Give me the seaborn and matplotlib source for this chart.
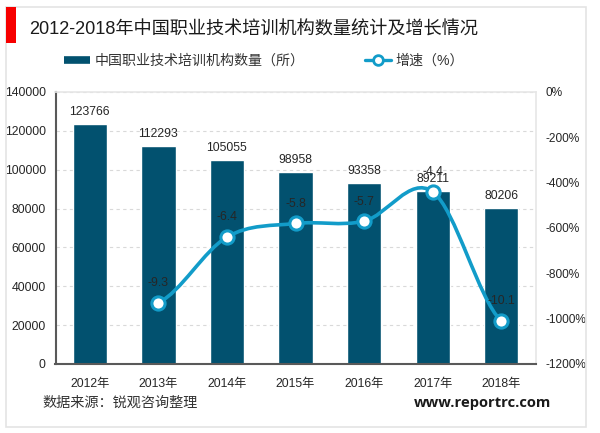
import matplotlib
matplotlib.use("Agg")
import matplotlib.pyplot as plt
import seaborn as sns
import pandas as pd
from matplotlib.path import Path
from matplotlib.patches import PathPatch, Rectangle
from matplotlib.lines import Line2D

years = ["2012年", "2013年", "2014年", "2015年", "2016年", "2017年", "2018年"]
counts = [123766, 112293, 105055, 98958, 93358, 89211, 80206]
growth_years = ["2013年", "2014年", "2015年", "2016年", "2017年", "2018年"]
growth = [-9.3, -6.4, -5.8, -5.7, -4.4, -10.1]
title = "2012-2018年中国职业技术培训机构数量统计及增长情况"
bar_name = "中国职业技术培训机构数量（所）"
line_name = "增速（%）"
source = "数据来源：锐观咨询整理"
site = "www.reportrc.com"

sns.set_theme(style="white")
plt.rcParams["font.family"] = ["Liberation Sans", "Noto Sans CJK SC", "DejaVu Sans"]

W, H = 600, 433
BAR, LINE, TXT = "#02516f", "#129cc9", "#262626"
fig = plt.figure(figsize=(6, 4.33), dpi=100, facecolor="white")
ax = fig.add_axes([55.5 / W, 1 - 364 / H, 480 / W, 272 / H])

df = pd.DataFrame({"year": years, "count": counts})
sns.barplot(data=df, x="year", y="count", color=BAR, width=0.5, saturation=1, ax=ax, zorder=2)
ax.set_ylim(0, 140000)
ax.set_xlim(-0.5, 6.5)
ax.set_xlabel("")
ax.set_ylabel("")
ax.set_yticks(range(0, 140001, 20000))
ax.tick_params(axis="both", length=0, labelsize=8.8, labelcolor=TXT)
ax.tick_params(axis="x", pad=10)
ax.tick_params(axis="y", pad=7)
ax.grid(axis="y", color="#d9d9d9", linestyle=(0, (3, 3)), linewidth=0.8, zorder=0)
ax.set_axisbelow(True)
for s in ["top", "right"]:
    ax.spines[s].set_color("#e6e6e6")
    ax.spines[s].set_linewidth(1.2)
for s in ["left", "bottom"]:
    ax.spines[s].set_color("#595959")
    ax.spines[s].set_linewidth(1.5)
for i, v in enumerate(counts):
    ax.text(i, v + 3000, str(v), ha="center", va="bottom", fontsize=8.8, color=TXT, zorder=6)

ax2 = ax.twinx()
ax2.set_ylim(-12, 0)
ax2.set_yticks(range(-12, 1, 2))
ax2.set_yticklabels([f"{v * 100}%" for v in range(-12, 1, 2)])
ax2.tick_params(axis="y", length=0, labelsize=8.6, labelcolor=TXT, pad=7.5)
ax2.grid(False)
for s in ax2.spines.values():
    s.set_visible(False)

# smooth curve (Catmull-Rom style Bezier handles between the read values)
xpos = [years.index(y) for y in growth_years]
verts, codes = [(xpos[0], growth[0])], [Path.MOVETO]
n = len(xpos)
for i in range(n - 1):
    p0 = growth[max(i - 1, 0)]
    p1, p2 = growth[i], growth[i + 1]
    p3 = growth[min(i + 2, n - 1)]
    verts += [(xpos[i] + 1 / 3, p1 + (p2 - p0) / 6),
              (xpos[i + 1] - 1 / 3, p2 - (p3 - p1) / 6),
              (xpos[i + 1], p2)]
    codes += [Path.CURVE4] * 3
ax2.add_patch(PathPatch(Path(verts, codes), fill=False, edgecolor=LINE, linewidth=2.6, zorder=3))
gdf = pd.DataFrame({"x": xpos, "g": growth})
sns.lineplot(data=gdf, x="x", y="g", linestyle="none", marker="o", markersize=9.5,
             markerfacecolor="white", markeredgecolor=LINE, markeredgewidth=2.2, ax=ax2, zorder=4)
ax2.set_xlabel("")
ax2.set_ylabel("")
ax2.set_xlim(-0.5, 6.5)
for x, g in zip(xpos, growth):
    ax2.text(x, g + 0.6, f"{g}", ha="center", va="bottom", fontsize=8.8, color=TXT, zorder=6)

# frame and header
fig.add_artist(Rectangle((6 / W, 1 - 427 / H), 580 / W, 420 / H, transform=fig.transFigure,
                         fill=False, edgecolor="#e4e4e4", linewidth=1.2))
fig.add_artist(Rectangle((6 / W, 1 - 43 / H), 10 / W, 36 / H, transform=fig.transFigure,
                         facecolor="#f70000", edgecolor="none"))
fig.text(29 / W, 1 - 30 / H, title, fontsize=13.1, color="#1a1a1a", va="center", ha="left")

handles = [Line2D([], [], color=BAR, linewidth=5.5, solid_capstyle="butt"),
           Line2D([], [], color=LINE, linewidth=2.4, marker="o", markersize=7,
                  markerfacecolor="white", markeredgecolor=LINE, markeredgewidth=2)]
fig.legend(handles, [bar_name, line_name], loc="center left",
           bbox_to_anchor=(51 / W, 1 - 61 / H), ncol=2, frameon=False, fontsize=10.1,
           labelcolor="#333333", handlelength=1.9, handletextpad=0.3, columnspacing=4.3)

fig.text(42 / W, 1 - 403 / H, source, fontsize=10.2, color="#333333", va="center", ha="left")
fig.text(551 / W, 1 - 403 / H, site, fontsize=10.6, color="#1a1a1a", va="center", ha="right",
         fontweight="bold", family=["Open Sans", "DejaVu Sans"])

fig.savefig("out.png", dpi=100)
